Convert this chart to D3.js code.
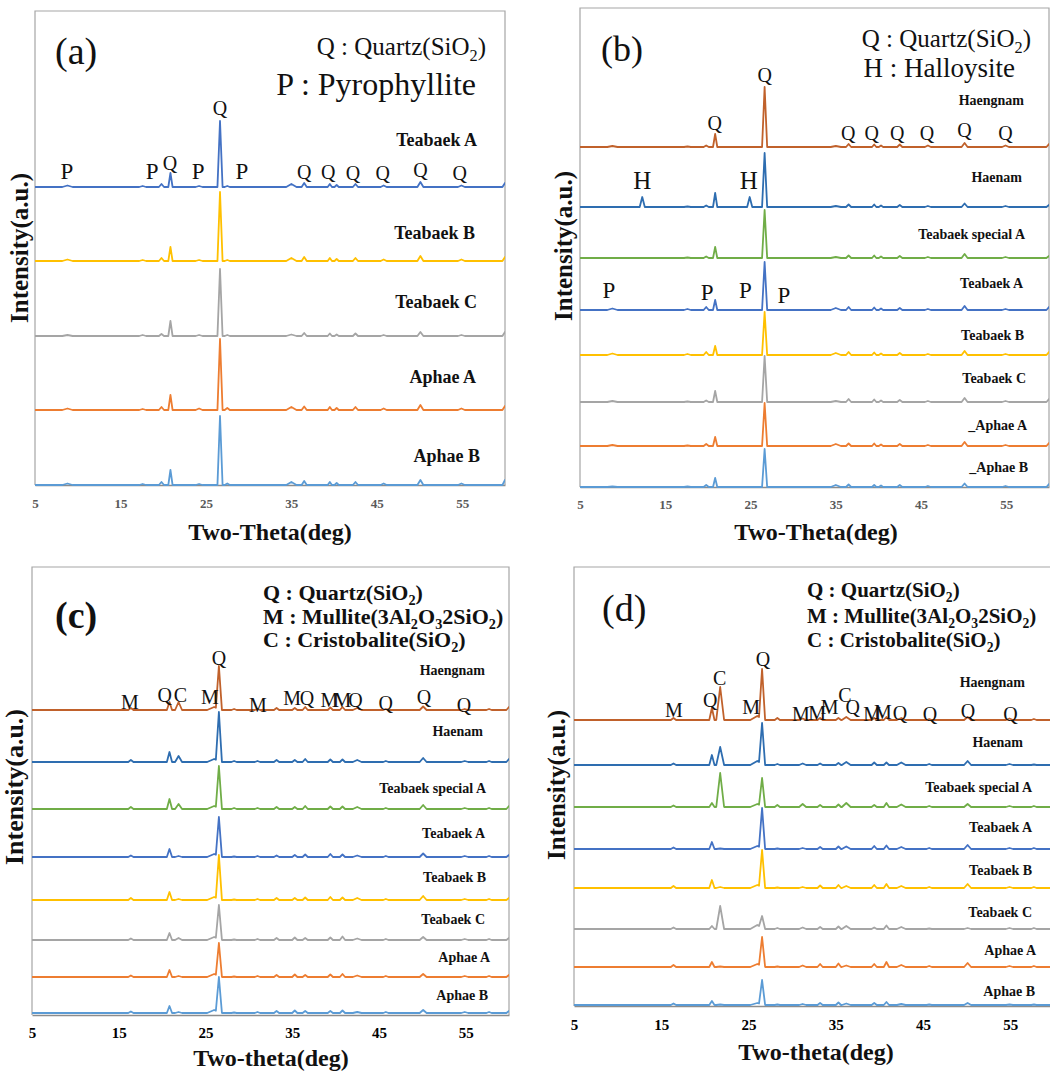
<!DOCTYPE html>
<html><head><meta charset="utf-8">
<script src="https://cdn.jsdelivr.net/npm/d3@7"></script>
<style>
body{margin:0;background:#fff}
svg{display:block}
text{font-family:"Liberation Serif","Times New Roman",serif}
</style>
</head><body>
<svg id="chart" width="1050" height="1072"></svg>
<script>
// ---------------- DATA ----------------
const thetaDomain = [5, 60];
const thetaTicks = [5, 15, 25, 35, 45, 55];

// Panel (a)
const seriesA = ["Teabaek A", "Teabaek B", "Teabaek C", "Aphae A", "Aphae B"];
const peakPosA   = [8.8, 17.6, 19.8, 20.85, 24.2, 26.65, 27.5, 35.0, 36.5, 39.5, 40.3, 42.5, 45.8, 50.1, 54.9, 60.0];
const peakWidthA = [0.6, 0.4, 0.3, 0.25, 0.4, 0.3, 0.3, 0.6, 0.3, 0.25, 0.25, 0.3, 0.35, 0.35, 0.4, 0.3];
const intensA = [
  [1.5, 1, 3, 14, 1, 66, 1, 3, 4, 3, 2, 3, 1.5, 5, 1.5, 4],
  [1.5, 1, 3, 14, 1, 69, 1, 3, 4, 3, 2, 3, 1.5, 5, 1.5, 4],
  [1, 1, 2, 15, 1, 67, 1, 1.5, 3, 2.5, 1.5, 2.5, 1, 4, 1, 4],
  [1.5, 1, 3, 15, 1.5, 71, 2, 3, 3.5, 3, 2, 3, 1.5, 5, 1.5, 4],
  [1.5, 1, 3, 15, 1, 69, 1.5, 3, 4, 3, 2, 3, 1.5, 5, 1.5, 5]
];
const marksA = [["P", 8.74, 314], ["P", 18.7, 314], ["Q", 20.8, 322], ["P", 24.1, 314], ["P", 29.2, 314],
  ["Q", 26.65, 377], ["Q", 36.5, 313], ["Q", 39.3, 313], ["Q", 42.2, 312], ["Q", 45.7, 312], ["Q", 50.1, 315], ["Q", 54.7, 312]];

// Panel (b)
const seriesB = ["Haengnam", "Haenam", "Teabaek special A", "Teabaek A", "Teabaek B", "Teabaek C", "_Aphae A", "_Aphae B"];
const peakPosB   = [8.8, 12.3, 17.6, 19.8, 20.85, 24.9, 26.65, 35.0, 36.5, 39.5, 40.3, 42.5, 45.8, 50.1, 54.9, 60.0];
const peakWidthB = [0.6, 0.3, 0.4, 0.3, 0.25, 0.3, 0.3, 0.6, 0.3, 0.25, 0.25, 0.3, 0.35, 0.35, 0.4, 0.3];
const intensB = [
  [1, 0, 0.5, 1.5, 13, 0, 60, 1, 3, 2.5, 1.5, 2.5, 1.5, 4, 1.5, 3],
  [0, 10, 0.5, 1.5, 14, 10, 54, 1, 2.5, 2.5, 1.5, 2, 1, 3.5, 1, 2],
  [0, 0, 0.5, 1.5, 11, 0, 48, 1, 2.5, 2.5, 1.5, 2, 1, 4, 1, 2],
  [1.5, 0, 1, 3, 10, 0, 48, 2, 3, 2.5, 1.5, 2, 1, 4, 1, 3],
  [1.5, 0, 1, 3, 9, 0, 43, 2, 3, 2.5, 1.5, 2, 1, 4, 1, 3],
  [1, 0, 0.5, 1.5, 11, 0, 46, 1, 3, 2.5, 1.5, 2, 1, 4, 1, 3],
  [1, 0, 0.5, 2, 9, 0, 43, 2, 2.5, 2.5, 1.5, 2, 1, 4, 1, 3],
  [0.5, 0, 0.5, 2, 9, 0, 38, 2, 2.5, 2, 1.5, 2, 1, 3.5, 1, 3]
];
const marksB = [["Q", 26.65, 412], ["Q", 20.8, 364], ["Q", 36.45, 354], ["Q", 39.2, 354], ["Q", 42.2, 354],
  ["Q", 45.7, 354], ["Q", 50.1, 357], ["Q", 54.9, 354], ["H", 12.3, 306], ["H", 24.8, 306],
  ["P", 8.4, 197], ["P", 19.9, 195], ["P", 24.4, 197], ["P", 28.9, 192]];

// Panel (c)
const seriesC = ["Haengnam", "Haenam", "Teabaek special A", "Teabaek A", "Teabaek B", "Teabaek C", "Aphae A", "Aphae B"];
const peakPosC   = [16.4, 20.85, 21.9, 26.0, 26.55, 28.3, 31.0, 33.2, 35.3, 36.5, 39.4, 40.8, 42.5, 45.8, 50.1, 54.9, 57.7, 60.0];
const peakWidthC = [0.3, 0.3, 0.4, 0.8, 0.35, 0.3, 0.3, 0.3, 0.3, 0.3, 0.3, 0.3, 0.5, 0.3, 0.4, 0.4, 0.3, 0.3];
const intensC = [
  [2, 8, 8, 3, 44, 1, 1, 2, 2, 3, 2.5, 3, 2, 1, 3.5, 1, 1, 3],
  [2, 10, 6, 3, 50, 1, 1, 2, 2, 3, 2.5, 2.5, 2, 1, 4, 1, 1, 3],
  [2, 10, 5, 3, 43, 1, 1, 2, 2, 3, 2.5, 2.5, 2, 1, 4, 1, 1, 3],
  [1.5, 8, 1, 3, 40, 0.5, 1, 1.5, 2, 2.5, 3, 2.5, 1.5, 1, 3.5, 1, 1, 2],
  [2, 8, 1, 3, 45, 0.5, 1, 2, 2, 2.5, 3, 2.5, 2, 1, 4, 1, 1, 2],
  [1.5, 7, 2, 3, 35, 0.5, 1, 2, 2.5, 2, 2.5, 3.5, 1.5, 1, 3, 1, 1, 2],
  [1.5, 7, 1, 3, 34, 0.5, 1, 2, 2.5, 2, 2.5, 3, 1.5, 1, 3, 1, 1, 2],
  [1.5, 7, 1, 3, 36, 0.5, 1, 2, 2.5, 2, 2, 2.5, 1, 1, 3, 1, 1, 2]
];
const marksC = [["M", 16.3, 313], ["Q", 20.3, 320], ["C", 22.1, 320], ["M", 25.5, 318], ["Q", 26.55, 357],
  ["M", 31.05, 310], ["M", 35.0, 317], ["Q", 36.7, 317], ["M", 39.3, 315], ["M", 40.8, 315], ["Q", 42.3, 315],
  ["Q", 45.8, 312], ["Q", 50.2, 318], ["Q", 54.8, 310]];

// Panel (d)
const seriesD = ["Haengnam", "Haenam", "Teabaek special A", "Teabaek A", "Teabaek B", "Teabaek C", "Aphae A", "Aphae B"];
const peakPosD   = [16.4, 20.8, 21.75, 26.0, 26.55, 28.3, 31.2, 33.2, 35.3, 36.2, 39.4, 40.8, 42.5, 45.7, 50.1, 54.9, 57.7];
const peakWidthD = [0.3, 0.3, 0.45, 0.8, 0.35, 0.3, 0.4, 0.3, 0.3, 0.5, 0.3, 0.3, 0.5, 0.3, 0.4, 0.4, 0.3];
const intensD = [
  [2, 12, 33, 4, 51, 2, 1.5, 2, 2, 3, 2, 3, 2, 1, 3, 1.5, 1],
  [1.5, 10, 18, 4, 42, 1, 1.5, 1.5, 2, 3, 2.5, 2.5, 2.5, 1, 4, 1, 0.5],
  [1.5, 4, 34, 3, 29, 2, 3, 2, 2.5, 4, 2, 4, 2.5, 1, 3, 1, 1],
  [1.5, 7, 0.5, 3, 41, 0.5, 1, 2, 2.5, 2.5, 3, 3.5, 2, 1, 4, 1, 1],
  [2, 8, 1, 3, 38, 0.5, 1, 2.5, 3, 2, 3, 4, 2, 1, 4, 1, 1],
  [1.5, 3, 23, 4, 13, 1, 1.5, 2, 2.5, 3, 1.5, 3.5, 2, 0.5, 1, 1, 1],
  [2, 5, 0.5, 3, 30, 0.5, 1.5, 3, 3.5, 1.5, 3, 5, 2, 1, 4, 1, 1],
  [1.5, 4, 0.5, 2, 25, 0.5, 1, 2, 2.5, 1.5, 2, 3, 1, 0.5, 2, 0.5, 0.5]
];
const marksD = [["M", 16.46, 296], ["Q", 20.6, 306], ["C", 21.7, 328], ["M", 25.3, 299], ["Q", 26.65, 347],
  ["M", 31.0, 292], ["M", 32.85, 293], ["M", 34.3, 299], ["C", 36.05, 311], ["Q", 36.95, 299],
  ["M", 39.15, 292], ["M", 40.4, 294], ["Q", 42.35, 293], ["Q", 45.8, 292], ["Q", 50.15, 295], ["Q", 55.0, 292]];

// legends (text parts: [text, isSubscript])
const legendA = [[["Q : Quartz(SiO", 0], ["2", 1], [")", 0]], [["P : Pyrophyllite", 0]]];
const legendB = [[["Q : Quartz(SiO", 0], ["2", 1], [")", 0]], [["H : Halloysite", 0]]];
const legendCD = [
  [["Q : Quartz(SiO", 0], ["2", 1], [")", 0]],
  [["M : Mullite(3Al", 0], ["2", 1], ["O", 0], ["3", 1], ["2SiO", 0], ["2", 1], [")", 0]],
  [["C : Cristobalite(SiO", 0], ["2", 1], [")", 0]]
];

// ---------------- STYLE / LAYOUT ----------------
const colorOf = {
  "Haengnam": "#C0612B", "Haenam": "#2E6DB0", "Teabaek special A": "#70AD47",
  "Teabaek A": "#4472C4", "Teabaek B": "#FFC000", "Teabaek C": "#A5A5A5",
  "Aphae A": "#ED7D31", "Aphae B": "#5B9BD5", "_Aphae A": "#ED7D31", "_Aphae B": "#5B9BD5"
};

const panels = [
  { tag: "(a)", tagBold: false, tagX: 55, tagY: 64, tagSize: 38,
    series: seriesA, pos: peakPosA, wid: peakWidthA, inten: intensA, marks: marksA,
    markSize: { P: 23, Q: 20 },
    x0: 35, x1: 505, top: 11, bottom: 485, clipR: 505, rightBorder: true,
    offsets: [298, 224, 149, 75, 0],
    labelY: [146, 239, 308, 383, 462], labelRight: [477, 475, 477, 476, 480], labelSize: 18,
    tickColor: "#595959", tickSize: 13, tickPad: 14,
    xTitle: "Two-Theta(deg)", xTitleX: 270, xTitleY: 540, xTitleSize: 24,
    yTitleX: 28, yTitleY: 248, yTitleSize: 25,
    legend: legendA, legendX: [486, 476], legendAnchor: "end", legendY: [55, 95], legendSize: [25, 32], legendBold: false },
  { tag: "(b)", tagBold: false, tagX: 601, tagY: 61, tagSize: 36,
    series: seriesB, pos: peakPosB, wid: peakWidthB, inten: intensB, marks: marksB,
    markSize: { P: 23, Q: 20, H: 25 },
    x0: 580, x1: 1049, top: 8, bottom: 487, clipR: 1049, rightBorder: true,
    offsets: [340, 280, 229, 177, 132, 85, 41, 0],
    labelY: [105, 182, 239, 288, 340, 383, 430, 472], labelRight: [1024, 1022, 1025, 1023, 1024, 1026, 1027, 1028], labelSize: 14,
    tickColor: "#595959", tickSize: 13, tickPad: 13,
    xTitle: "Two-Theta(deg)", xTitleX: 816, xTitleY: 540, xTitleSize: 24,
    yTitleX: 572, yTitleY: 246, yTitleSize: 25,
    legend: legendB, legendX: [1031, 1015], legendAnchor: "end", legendY: [47, 77], legendSize: [25, 27], legendBold: false },
  { tag: "(c)", tagBold: true, tagX: 55, tagY: 628, tagSize: 38,
    series: seriesC, pos: peakPosC, wid: peakWidthC, inten: intensC, marks: marksC,
    markSize: { M: 20, Q: 20, C: 20 },
    x0: 32, x1: 509, top: 567, bottom: 1015, clipR: 509, rightBorder: true,
    offsets: [305, 253, 206, 158, 115, 75, 38, 2],
    labelY: [675, 736, 793, 838, 882, 924, 962, 1000], labelRight: [485, 483, 486, 485, 486, 485, 490, 488], labelSize: 14,
    tickColor: "#000", tickSize: 15, tickPad: 12,
    xTitle: "Two-theta(deg)", xTitleX: 271, xTitleY: 1066, xTitleSize: 24,
    yTitleX: 23, yTitleY: 787, yTitleSize: 26,
    legend: legendCD, legendX: [263, 263, 263], legendAnchor: "start", legendY: [600, 624, 647], legendSize: [22, 22, 22], legendBold: true },
  { tag: "(d)", tagBold: false, tagX: 602, tagY: 621, tagSize: 38,
    series: seriesD, pos: peakPosD, wid: peakWidthD, inten: intensD, marks: marksD,
    markSize: { M: 20, Q: 20, C: 20 },
    x0: 574, x1: 1054, top: 567, bottom: 1006, clipR: 1050, rightBorder: false,
    offsets: [286, 241, 199, 157, 118, 77, 39, 1],
    labelY: [687, 747, 792, 832, 875, 917, 955, 996], labelRight: [1025, 1023, 1032, 1032, 1032, 1032, 1036, 1035], labelSize: 14,
    tickColor: "#000", tickSize: 15, tickPad: 13,
    xTitle: "Two-theta(deg)", xTitleX: 816, xTitleY: 1060, xTitleSize: 24,
    yTitleX: 565, yTitleY: 785, yTitleSize: 25,
    legend: legendCD, legendX: [807, 807, 807], legendAnchor: "start", legendY: [597, 623, 647], legendSize: [21, 21, 21], legendBold: true }
];

const svg = d3.select("#chart");
svg.append("rect").attr("width", 1050).attr("height", 1072).attr("fill", "#fff");

function profile(pos, wid, h) {
  const xs = [thetaDomain[0], thetaDomain[1]];
  pos.forEach((p, i) => { if (h[i] > 0) xs.push(p - wid[i], p, p + wid[i]); });
  xs.sort((a, b) => a - b);
  return xs.map(x => [x, d3.max(pos, (p, i) => h[i] * Math.max(0, 1 - Math.abs(x - p) / wid[i]))]);
}

panels.forEach((P, pi) => {
  const g = svg.append("g");
  const x = d3.scaleLinear().domain(thetaDomain).range([P.x0, P.x1]);
  const y = d3.scaleLinear().domain([0, P.bottom - P.top]).range([P.bottom, P.top]);

  const clipId = "clip" + pi;
  svg.append("clipPath").attr("id", clipId).append("rect")
    .attr("x", P.x0).attr("y", P.top).attr("width", P.clipR - P.x0).attr("height", P.bottom - P.top + 2);

  // frame
  const fd = P.rightBorder
    ? `M${P.x0},${P.bottom}V${P.top}H${P.x1}V${P.bottom}`
    : `M${P.x0},${P.bottom}V${P.top}H${P.x1}`;
  g.append("path").attr("fill", "none").attr("stroke", "#a6a6a6").attr("stroke-width", 1.2).attr("d", fd);

  // x axis
  const ax = g.append("g").attr("transform", `translate(0,${P.bottom})`)
    .call(d3.axisBottom(x).tickValues(thetaTicks).tickSize(0).tickPadding(P.tickPad).tickFormat(d3.format("d")));
  ax.select(".domain").attr("stroke", "#8c8c8c").attr("stroke-width", 1.4);
  ax.selectAll("text").attr("font-weight", "bold")
    .attr("font-size", P.tickSize).attr("fill", P.tickColor);

  // traces
  const line = d3.line().x(d => x(d[0])).y(d => y(d[1]));
  const lg = g.append("g").attr("clip-path", `url(#${clipId})`);
  P.series.forEach((name, si) => {
    const off = P.offsets[si];
    const pts = profile(P.pos, P.wid, P.inten[si]).map(d => [d[0], d[1] + off]);
    lg.append("path").attr("d", line(pts)).attr("fill", "none")
      .attr("stroke", colorOf[name]).attr("stroke-width", 1.8).attr("stroke-linejoin", "round");
  });

  // series labels
  P.series.forEach((name, si) => {
    g.append("text").attr("x", P.labelRight[si]).attr("y", P.labelY[si])
      .attr("text-anchor", "end").attr("font-weight", "bold").attr("font-size", P.labelSize)
      .attr("fill", "#111").text(name);
  });

  // peak marks
  P.marks.forEach(m => {
    g.append("text").attr("x", x(m[1])).attr("y", y(m[2])).attr("dy", "0.33em")
      .attr("text-anchor", "middle").attr("font-size", P.markSize[m[0]] || 20)
      .attr("fill", "#111").text(m[0]);
  });

  // legend
  P.legend.forEach((parts, li) => {
    const fs = P.legendSize[li];
    const t = g.append("text").attr("x", P.legendX[li]).attr("y", P.legendY[li])
      .attr("text-anchor", P.legendAnchor)
      .attr("font-size", fs).attr("font-weight", P.legendBold ? "bold" : "normal").attr("fill", "#111");
    let lowered = false;
    parts.forEach(pt => {
      if (pt[1]) {
        t.append("tspan").attr("font-size", fs * 0.65).attr("dy", lowered ? 0 : fs * 0.22).text(pt[0]);
        lowered = true;
      } else {
        const ts = t.append("tspan").text(pt[0]);
        if (lowered) { ts.attr("dy", -fs * 0.22); lowered = false; }
      }
    });
  });

  // panel tag
  g.append("text").attr("x", P.tagX).attr("y", P.tagY).attr("font-size", P.tagSize)
    .attr("font-weight", P.tagBold ? "bold" : "normal").attr("fill", "#111").text(P.tag);

  // axis titles
  g.append("text").attr("x", P.xTitleX).attr("y", P.xTitleY).attr("text-anchor", "middle")
    .attr("font-weight", "bold").attr("font-size", P.xTitleSize).attr("fill", "#111").text(P.xTitle);
  g.append("text").attr("transform", `translate(${P.yTitleX},${P.yTitleY}) rotate(-90)`)
    .attr("text-anchor", "middle").attr("font-weight", "bold").attr("font-size", P.yTitleSize)
    .attr("fill", "#111").text("Intensity(a.u.)");
});
</script>
</body></html>
